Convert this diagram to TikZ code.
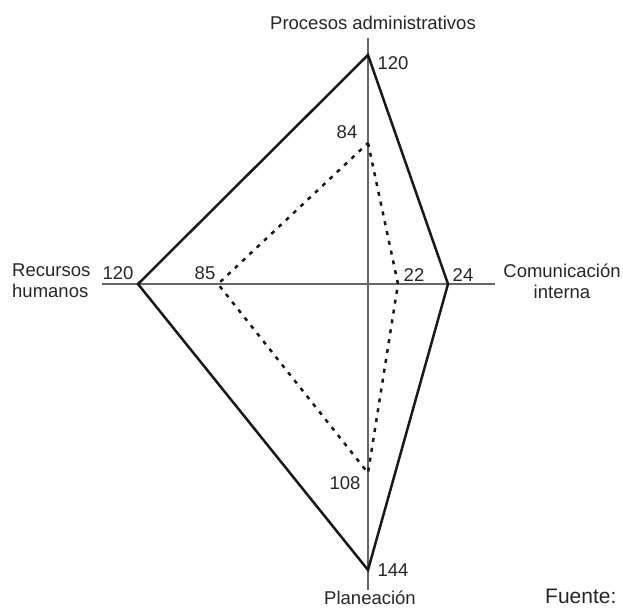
\documentclass[tikz,border=0pt]{standalone}
\usepackage{fontspec}
\setmainfont{Liberation Sans}
\begin{document}
\begin{tikzpicture}[x=1pt,y=-1pt,
  axis/.style={draw=black!60,line width=1.6pt},
  solidpoly/.style={draw=black!90,line width=2.5pt,line join=miter},
  dashpoly/.style={draw=black!90,line width=2.5pt,dash pattern=on 4pt off 6pt},
  lbl/.style={font=\fontsize{18.5}{21}\selectfont,text=black!85,inner sep=0pt},
  cat/.style={font=\fontsize{18.5}{21}\selectfont,text=black!85,inner sep=0pt,align=center}]
\useasboundingbox (0,0) rectangle (623,610);
% axes ends
\coordinate (at) at (368,38);
\coordinate (ab) at (368,590);
\coordinate (al) at (102,284);
\coordinate (ar) at (495,284);
\draw[axis] (at) -- (ab);
\draw[axis] (al) -- (ar);
% solid polygon
\coordinate (st) at (368,55);
\coordinate (sr) at (448,284);
\coordinate (sb) at (368,570);
\coordinate (sl) at (138,284);
\draw[solidpoly] (st) -- (sr) -- (sb) -- (sl) -- cycle;
% dashed polygon
\coordinate (dt) at (368,143);
\coordinate (dr) at (398,284);
\coordinate (db) at (368,473);
\coordinate (dl) at (218,284);
\draw[dashpoly] (dt) -- (dr) -- (db) -- (dl) -- cycle;
% values
\node[lbl] (v120t) at (393,63) {120};
\node[lbl] (v84) at (347,132) {84};
\node[lbl] (v120l) at (118,273) {120};
\node[lbl] (v85) at (205,273) {85};
\node[lbl] (v22) at (414,275) {22};
\node[lbl] (v24) at (463,275) {24};
\node[lbl] (v108) at (345,483) {108};
\node[lbl] (v144) at (393,570) {144};
% categories
\node[cat] (cpa) at (373,23) {Procesos administrativos};
\node[cat,align=left,anchor=north west] (crh) at (12,264) {Recursos\\humanos};
\node[cat,anchor=north] (cci) at (562,264) {Comunicación\\interna};
\node[cat,anchor=base] (cpl) at (370,604) {Planeación};
\node[font=\fontsize{21}{24}\selectfont,text=black!85,inner sep=0pt,anchor=base west] (fte) at (545,603) {Fuente:};
\end{tikzpicture}
\end{document}
